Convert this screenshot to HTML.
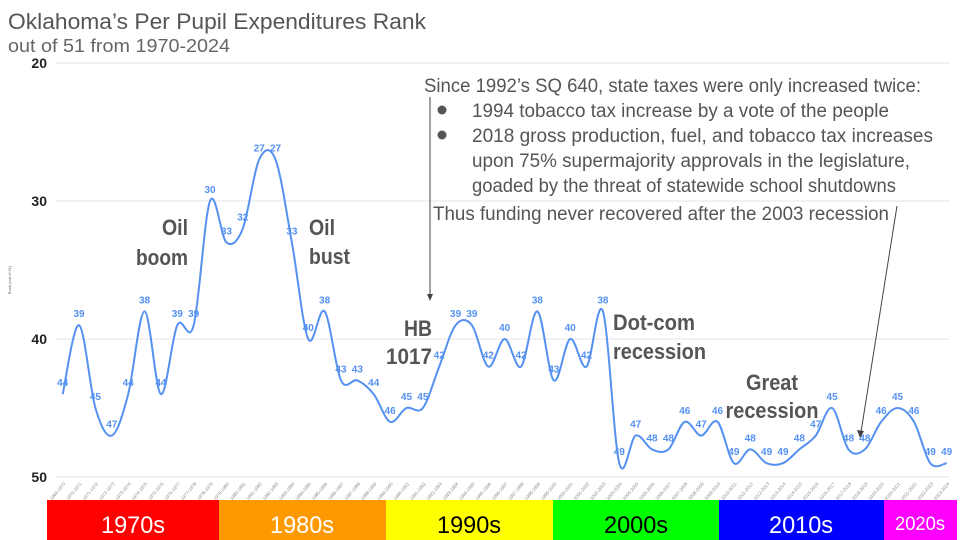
<!DOCTYPE html>
<html><head><meta charset="utf-8"><style>
body{margin:0;background:#fff;width:960px;height:540px;overflow:hidden}
svg{display:block}
text{font-family:"Liberation Sans",sans-serif}
.a{fill:#555;font-size:19px}
.b{fill:#555;font-size:22px;font-weight:bold}
.v{fill:#5591f0;font-size:10px;font-weight:bold;text-anchor:middle}
</style></head><body>
<svg id="s" width="960" height="540" viewBox="0 0 960 540" xmlns="http://www.w3.org/2000/svg">
<text x="8" y="29" font-size="22" fill="#555" textLength="418" lengthAdjust="spacingAndGlyphs">Oklahoma’s Per Pupil Expenditures Rank</text>
<text x="8" y="52" font-size="18" fill="#666" textLength="222" lengthAdjust="spacingAndGlyphs">out of 51 from 1970-2024</text>
<g stroke="#eee" stroke-width="1.5">
<line x1="55" y1="63" x2="950" y2="63"/><line x1="55" y1="201" x2="950" y2="201"/>
<line x1="55" y1="339" x2="950" y2="339"/><line x1="55" y1="477" x2="950" y2="477"/></g>
<g font-size="14" font-weight="bold" text-anchor="end" fill="#222">
<text x="47" y="68">20</text><text x="47" y="206">30</text><text x="47" y="344">40</text><text x="47" y="482">50</text></g>
<text transform="translate(11,280) rotate(-90)" font-size="4" fill="#666" text-anchor="middle">Rank (out of 51)</text>
<g id="ticks" font-size="4.5" fill="#888"></g>
<path id="ln" fill="none" stroke="#5591f0" stroke-width="2"/>
<g id="lb"></g>
<g lengthAdjust="spacingAndGlyphs">
<text class="a" x="424" y="92" textLength="497" lengthAdjust="spacingAndGlyphs">Since 1992’s SQ 640, state taxes were only increased twice:</text>
<text class="a" x="472" y="117" textLength="417" lengthAdjust="spacingAndGlyphs">1994 tobacco tax increase by a vote of the people</text>
<text class="a" x="472" y="142" textLength="461" lengthAdjust="spacingAndGlyphs">2018 gross production, fuel, and tobacco tax increases</text>
<text class="a" x="472" y="167" textLength="438" lengthAdjust="spacingAndGlyphs">upon 75% supermajority approvals in the legislature,</text>
<text class="a" x="472" y="192" textLength="424" lengthAdjust="spacingAndGlyphs">goaded by the threat of statewide school shutdowns</text>
<text class="a" x="433" y="220" textLength="456" lengthAdjust="spacingAndGlyphs">Thus funding never recovered after the 2003 recession</text>
</g>
<circle cx="442" cy="110" r="4.5" fill="#555"/><circle cx="442" cy="135" r="4.5" fill="#555"/>
<line x1="430" y1="97" x2="430" y2="296" stroke="#444" stroke-width="1"/>
<path d="M427,294 L430,301 L433,294Z" fill="#444"/>
<line x1="897" y1="206" x2="861" y2="432" stroke="#444" stroke-width="1"/>
<path d="M857,430 L860,438 L864,431Z" fill="#444"/>
<text class="b" x="188" y="235" text-anchor="end" textLength="26" lengthAdjust="spacingAndGlyphs">Oil</text>
<text class="b" x="188" y="265" text-anchor="end" textLength="52" lengthAdjust="spacingAndGlyphs">boom</text>
<text class="b" x="309" y="235" textLength="26" lengthAdjust="spacingAndGlyphs">Oil</text>
<text class="b" x="309" y="264" textLength="41" lengthAdjust="spacingAndGlyphs">bust</text>
<text class="b" x="432" y="336" text-anchor="end" textLength="28" lengthAdjust="spacingAndGlyphs">HB</text>
<text class="b" x="432" y="364" text-anchor="end" textLength="46" lengthAdjust="spacingAndGlyphs">1017</text>
<text class="b" x="613" y="330" textLength="82" lengthAdjust="spacingAndGlyphs">Dot-com</text>
<text class="b" x="613" y="359" textLength="93" lengthAdjust="spacingAndGlyphs">recession</text>
<text class="b" x="772" y="390" text-anchor="middle" textLength="52" lengthAdjust="spacingAndGlyphs">Great</text>
<text class="b" x="772" y="418" text-anchor="middle" textLength="93" lengthAdjust="spacingAndGlyphs">recession</text>
<rect x="47" y="500" width="172" height="40" fill="#ff0000"/>
<rect x="219" y="500" width="167" height="40" fill="#ff9900"/>
<rect x="386" y="500" width="167" height="40" fill="#ffff00"/>
<rect x="553" y="500" width="166" height="40" fill="#00ff00"/>
<rect x="719" y="500" width="165" height="40" fill="#0000ff"/>
<rect x="884" y="500" width="73" height="40" fill="#ff00ff"/>
<g font-size="24" text-anchor="middle">
<text x="133" y="533" fill="#fff" textLength="64" lengthAdjust="spacingAndGlyphs">1970s</text>
<text x="302" y="533" fill="#fff" textLength="64" lengthAdjust="spacingAndGlyphs">1980s</text>
<text x="469" y="533" fill="#000" textLength="64" lengthAdjust="spacingAndGlyphs">1990s</text>
<text x="636" y="533" fill="#000" textLength="64" lengthAdjust="spacingAndGlyphs">2000s</text>
<text x="801" y="533" fill="#fff" textLength="64" lengthAdjust="spacingAndGlyphs">2010s</text>
<text x="920" y="530" fill="#fff" font-size="19" textLength="50" lengthAdjust="spacingAndGlyphs">2020s</text>
</g>
</svg>
<script>
var d=[44,39,45,47,44,38,44,39,39,30,33,32,27,27,33,40,38,43,43,44,46,45,45,42,39,39,42,40,42,38,43,40,42,38,49,47,48,48,46,47,46,49,48,49,49,48,47,45,48,48,46,45,46,49,49];
var ns="http://www.w3.org/2000/svg";
function X(i){return 62.7+i*16.37}function Y(v){return 63+(v-20)*13.8}
var p=d.map(function(v,i){return[X(i),Y(v)]});
var s="M"+p[0][0]+","+p[0][1];
for(var i=0;i<p.length-1;i++){var p0=p[i-1]||p[i],p1=p[i],p2=p[i+1],p3=p[i+2]||p2;
s+=" C"+(p1[0]+(p2[0]-p0[0])/6)+","+(p1[1]+(p2[1]-p0[1])/6)+" "+(p2[0]-(p3[0]-p1[0])/6)+","+(p2[1]-(p3[1]-p1[1])/6)+" "+p2[0]+","+p2[1];}
document.getElementById("ln").setAttribute("d",s);
var lb=document.getElementById("lb"),tk=document.getElementById("ticks");
d.forEach(function(v,i){var t=document.createElementNS(ns,"text");t.setAttribute("class","v");
t.setAttribute("x",p[i][0]);t.setAttribute("y",p[i][1]-8);t.textContent=v;lb.appendChild(t);
var y=1969+i,u=document.createElementNS(ns,"text");u.setAttribute("text-anchor","end");
u.setAttribute("transform","translate("+(p[i][0]+3)+",484) rotate(-50)");u.textContent=y+"-"+(y+1);tk.appendChild(u);});
</script>
</body></html>
